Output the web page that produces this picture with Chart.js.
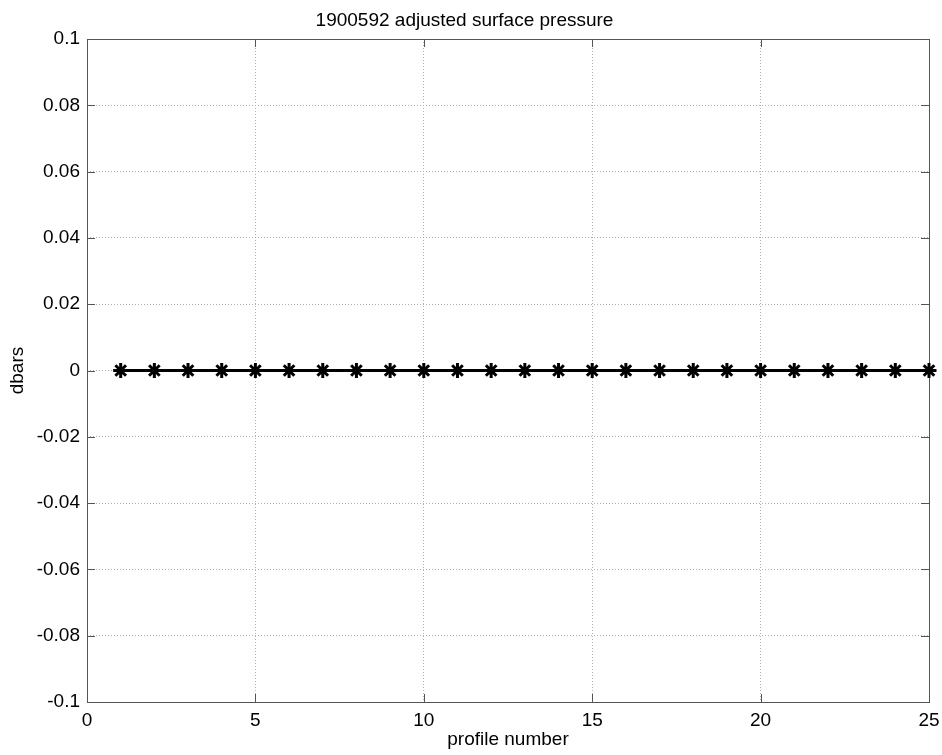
<!DOCTYPE html>
<html>
<head>
<meta charset="utf-8">
<title>1900592 adjusted surface pressure</title>
<script src="https://cdn.jsdelivr.net/npm/chart.js@4.4.1/dist/chart.umd.min.js"></script>
<style>
    html, body { margin: 0; padding: 0; background: #ffffff; }
    #wrap { width: 942px; height: 755px; }
</style>
</head>
<body>
<div id="wrap"><canvas id="myChart" width="942" height="755"></canvas></div>
<script>
// data
const profileNumbers = [1, 2, 3, 4, 5, 6, 7, 8, 9, 10, 11, 12, 13, 14, 15, 16, 17, 18, 19, 20, 21, 22, 23, 24, 25];
const adjustedPressure = [0, 0, 0, 0, 0, 0, 0, 0, 0, 0, 0, 0, 0, 0, 0, 0, 0, 0, 0, 0, 0, 0, 0, 0, 0];

// tick labels
const xTickLabels = ['0', '5', '10', '15', '20', '25'];
const yTickLabels = ['-0.1', '-0.08', '-0.06', '-0.04', '-0.02', '0', '0.02', '0.04', '0.06', '0.08', '0.1'];

const boxColor = '#555555';
const fontFamily = '"Liberation Sans", Arial, sans-serif';

// matlab style box round the plot with small inward ticks on all four sides
const boxPlugin = {
    id: 'matlabBox',
    beforeDatasetsDraw(chart) {
        const ctx = chart.ctx;
        const a = chart.chartArea;
        const xs = chart.scales.x;
        const ys = chart.scales.y;
        const tick = 8;
        ctx.save();
        ctx.strokeStyle = boxColor;
        ctx.lineWidth = 1;
        ctx.beginPath();
        xs.ticks.forEach(t => {
            const px = Math.round(xs.getPixelForValue(t.value)) + 0.5;
            ctx.moveTo(px, a.bottom); ctx.lineTo(px, a.bottom - tick);
            ctx.moveTo(px, a.top); ctx.lineTo(px, a.top + tick);
        });
        ys.ticks.forEach(t => {
            const py = Math.round(ys.getPixelForValue(t.value)) + 0.5;
            ctx.moveTo(a.left, py); ctx.lineTo(a.left + tick, py);
            ctx.moveTo(a.right, py); ctx.lineTo(a.right - tick, py);
        });
        ctx.stroke();
        ctx.strokeRect(Math.round(a.left) + 0.5, Math.round(a.top) + 0.5,
            Math.round(a.right - a.left), Math.round(a.bottom - a.top));
        ctx.restore();
    }
};

document.addEventListener('DOMContentLoaded', function() {
    const chartConfig = {
        type: 'line',
        data: {
            datasets: [{
                label: 'adjusted surface pressure',
                data: profileNumbers.map((p, i) => ({ x: p, y: adjustedPressure[i] })),
                borderColor: '#000000',
                backgroundColor: '#000000',
                borderWidth: 2.8,
                pointStyle: 'star',
                pointRadius: 7.5,
                pointBorderWidth: 3,
                pointBorderColor: '#000000',
                tension: 0,
                clip: false
            }]
        },
        options: {
            responsive: false,
            animation: false,
            events: [],
            layout: {
                padding: { left: 0, right: 13, top: 0, bottom: 0 }
            },
            plugins: {
                legend: { display: false },
                tooltip: { enabled: false },
                title: {
                    display: true,
                    text: '1900592 adjusted surface pressure',
                    color: '#000000',
                    font: { family: fontFamily, size: 19, weight: 'normal' },
                    padding: { top: 9, bottom: 7.2 }
                }
            },
            scales: {
                x: {
                    type: 'linear',
                    min: 0,
                    max: 25,
                    afterFit: scale => {
                        scale.height = 53;
                        scale.paddingLeft = 0;
                        scale.paddingRight = 0;
                    },
                    ticks: {
                        stepSize: 5,
                        padding: 7,
                        color: '#000000',
                        font: { family: fontFamily, size: 19 },
                        maxRotation: 0,
                        callback: (value, index) => xTickLabels[index]
                    },
                    grid: {
                        color: '#b0b0b0',
                        drawTicks: false
                    },
                    border: { display: false, dash: [1, 2] },
                    title: {
                        display: true,
                        text: 'profile number',
                        color: '#000000',
                        font: { family: fontFamily, size: 19 },
                        padding: { top: 0, bottom: 4 }
                    }
                },
                y: {
                    type: 'linear',
                    min: -0.1,
                    max: 0.1,
                    afterFit: scale => {
                        scale.width = 87;
                        scale.paddingTop = 0;
                        scale.paddingBottom = 0;
                    },
                    ticks: {
                        stepSize: 0.02,
                        padding: 7,
                        color: '#000000',
                        font: { family: fontFamily, size: 19 },
                        callback: (value, index) => yTickLabels[index]
                    },
                    grid: {
                        color: '#b0b0b0',
                        drawTicks: false
                    },
                    border: { display: false, dash: [1, 2] },
                    title: {
                        display: true,
                        text: 'dbars',
                        color: '#000000',
                        font: { family: fontFamily, size: 19 },
                        padding: { top: 6, bottom: 0 }
                    }
                }
            }
        },
        plugins: [boxPlugin]
    };

    new Chart(document.getElementById('myChart'), chartConfig);
});
</script>
</body>
</html>
